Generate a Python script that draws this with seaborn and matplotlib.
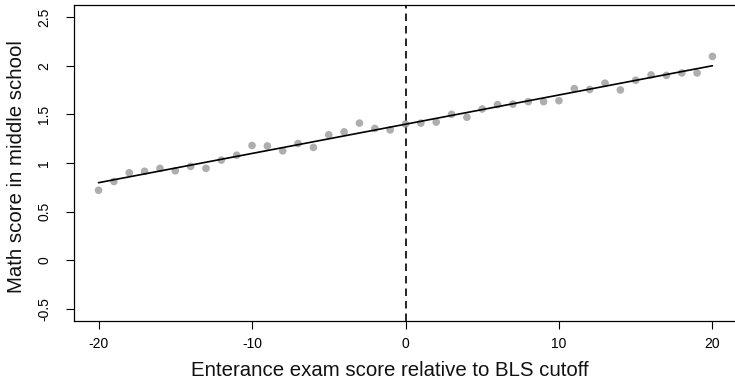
import numpy as np
import pandas as pd
import seaborn as sns
import matplotlib
matplotlib.use("Agg")
import matplotlib.pyplot as plt

# Binned means: entrance exam score relative to cutoff vs. middle-school math score
score_bins = list(range(-20, 21))
math_means = [
    0.72, 0.81, 0.90, 0.915, 0.945, 0.92, 0.965, 0.945, 1.03, 1.08,
    1.18, 1.175, 1.125, 1.20, 1.16, 1.29, 1.32, 1.41, 1.355, 1.34,
    1.40, 1.41, 1.42, 1.50, 1.47, 1.555, 1.60, 1.605, 1.63, 1.63,
    1.64, 1.765, 1.755, 1.82, 1.75, 1.85, 1.905, 1.90, 1.925, 1.925,
    2.095,
]
x_ticks = [-20, -10, 0, 10, 20]
y_ticks = [-0.5, 0, 0.5, 1, 1.5, 2, 2.5]
y_tick_labels = ["-0.5", "0", "0.5", "1", "1.5", "2", "2.5"]
cutoff = 0

df = pd.DataFrame({"score": score_bins, "math": math_means})

sns.set_style("ticks")
plt.rcParams["font.family"] = ["Liberation Sans", "DejaVu Sans"]

fig = plt.figure(figsize=(7.35, 3.81), dpi=100)
ax = fig.add_axes([74 / 735, 60.3 / 381, 663 / 735, 315.4 / 381])

sns.regplot(
    data=df, x="score", y="math", ax=ax, ci=None,
    scatter_kws=dict(s=30, color="#9a9a9a", edgecolors="none", zorder=2),
    line_kws=dict(color="black", lw=1.2, zorder=3),
)
ax.axvline(cutoff, color="black", lw=1.2, ls=(0, (4.5, 3)), zorder=1)

ax.set_xlim(-21.6, 21.6)
ax.set_ylim(-0.62, 2.62)
ax.set_xticks(x_ticks)
ax.set_xticklabels([str(t) for t in x_ticks])
ax.set_yticks(y_ticks)
ax.set_yticklabels(y_tick_labels, rotation=90, va="center")

for side in ["top", "right", "left", "bottom"]:
    ax.spines[side].set_visible(True)
    ax.spines[side].set_color("black")
    ax.spines[side].set_linewidth(0.9)

ax.tick_params(axis="both", direction="out", length=5.5, width=0.8,
               color="black", labelsize=10, labelcolor="black")
ax.tick_params(axis="x", pad=6)
ax.tick_params(axis="y", pad=11)

ax.set_xlabel("Enterance exam score relative to BLS cutoff", fontsize=14.7,
              color="#111111")
ax.set_ylabel("Math score in middle school", fontsize=14.7, color="#111111")
ax.xaxis.set_label_coords((390 - 74) / 663, -0.127)
ax.yaxis.set_label_coords(-0.072, (381 - 167 - 60.3) / 315.4)

fig.savefig("out.png", dpi=100)
